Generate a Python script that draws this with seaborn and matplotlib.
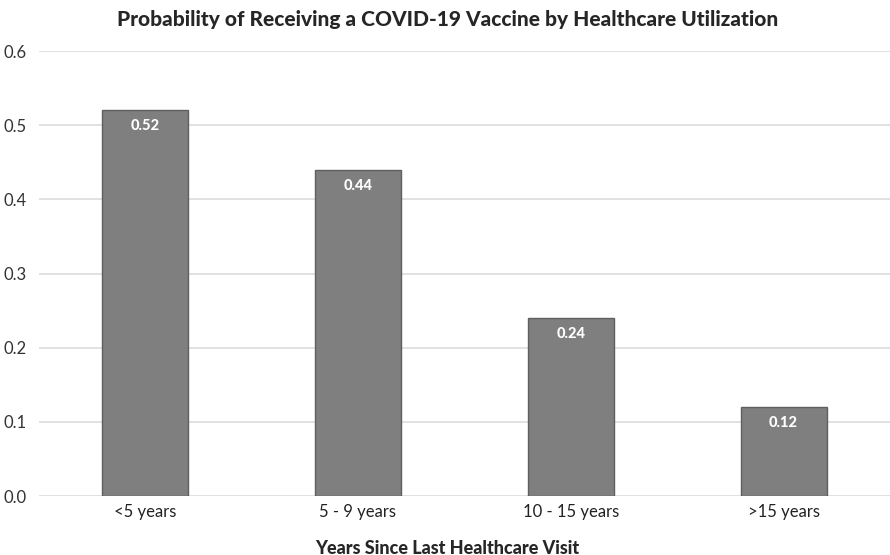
import matplotlib
matplotlib.use("Agg")
import matplotlib.pyplot as plt
import seaborn as sns
import pandas as pd

categories = ["<5 years", "5 - 9 years", "10 - 15 years", ">15 years"]
probabilities = [0.52, 0.44, 0.24, 0.12]
y_ticks = [0.0, 0.1, 0.2, 0.3, 0.4, 0.5, 0.6]

sns.set_theme(style="white")
plt.rcParams["font.family"] = ["Lato", "DejaVu Sans"]

df = pd.DataFrame({"group": categories, "prob": probabilities})

fig = plt.figure(figsize=(8.9, 5.55), dpi=100)
ax = fig.add_axes([0.0435, 0.1063, 0.9565, 0.8018])

ax.set_axisbelow(True)
for t in y_ticks:
    ax.axhline(t, color="#d9d9d9", linewidth=1.1, zorder=0)

sns.barplot(data=df, x="group", y="prob", order=categories, color="#7f7f7f",
            width=0.404, edgecolor="#5f5f5f", linewidth=1.0, saturation=1,
            ax=ax, zorder=2)

for i, v in enumerate(probabilities):
    ax.text(i, v - 0.012, f"{v:.2f}", ha="center", va="top", color="white",
            fontsize=10.5, fontweight="black", zorder=3)

ax.set_ylim(0, 0.6)
ax.set_xlim(-0.5, 3.5)
ax.set_yticks(y_ticks)
ax.set_yticklabels([f"{t:.1f}" for t in y_ticks], fontsize=12, color="#333333")
ax.tick_params(axis="x", labelsize=12, labelcolor="#222222", pad=6, length=0)
ax.tick_params(axis="y", length=0, pad=9)
for s in ax.spines.values():
    s.set_visible(False)

ax.set_ylabel("")
ax.set_xlabel("")
fig.text(0.503, 0.0126, "Years Since Last Healthcare Visit", ha="center",
         va="center", fontsize=13, fontweight="black")
fig.text(0.503, 0.965, "Probability of Receiving a COVID-19 Vaccine by Healthcare Utilization",
         ha="center", va="center", fontsize=15, fontweight="black")

fig.savefig("out.png", dpi=100, facecolor="white")
